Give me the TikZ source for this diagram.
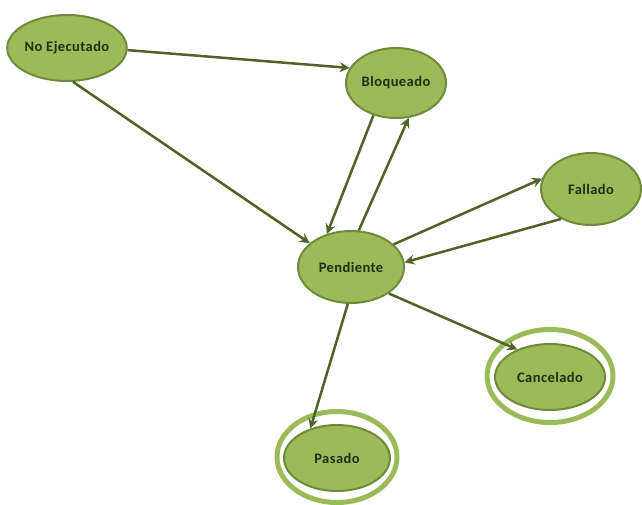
\documentclass[tikz,border=0pt]{standalone}
\usepackage{fontspec}
\setmainfont{Carlito}[LetterSpace=3]
\usetikzlibrary{shapes.geometric,arrows.meta}
\definecolor{stfill}{HTML}{9BBB59}
\definecolor{stborder}{HTML}{6E8A3A}
\definecolor{edgecol}{HTML}{4F6228}
\definecolor{txt}{HTML}{1E2F14}
\begin{document}
\begin{tikzpicture}[x=1pt,y=-1pt,
  state/.style={ellipse, fill=stfill, draw=stborder, line width=2pt, inner sep=0pt,
    font=\bfseries\fontsize{14.5}{16}\selectfont, text=txt},
  trans/.style={draw=edgecol, line width=2.5pt,
    -{Stealth[length=10pt,width=10pt,inset=3.5pt]}},
  ring/.style={ellipse, draw=stfill, line width=5pt, fill=white, inner sep=0pt}]
\useasboundingbox (0,0) rectangle (642,504);

% states
\node[state, minimum width=110pt, minimum height=66pt] (ne)  at (67,48)   {No Ejecutado};
\node[state, minimum width=100pt, minimum height=70pt] (blo) at (396,83)  {Bloqueado};
\node[state, minimum width=100pt, minimum height=72pt] (fal) at (591,189) {Fallado};
\node[state, minimum width=106pt, minimum height=72pt] (pen) at (351,267) {Pendiente};

% final states: outer ring, then the state itself
\node[ring, minimum width=126pt, minimum height=93pt] (canring) at (550,376) {};
\node[state, minimum width=110pt, minimum height=66pt] (can) at (550,377) {Cancelado};
\node[ring, minimum width=120pt, minimum height=91pt] (pasring) at (337,457) {};
\node[state, minimum width=106pt, minimum height=66pt] (pas) at (337,458) {Pasado};

% transitions
\draw[trans] (ne.-2)   -- (blo.162);
\draw[trans] (ne.-80)  -- (pen.150);
\draw[trans] (blo.235) -- (pen.126);
\draw[trans] (pen.78)  -- (blo.290);
\draw[trans] (pen.28)  -- (fal.168);
\draw[trans] (fal.225) -- (pen.5);
\draw[trans] (pen.-35) -- (can.140);
\draw[trans] (pen.-95) -- (pas.132);
\end{tikzpicture}
\end{document}
